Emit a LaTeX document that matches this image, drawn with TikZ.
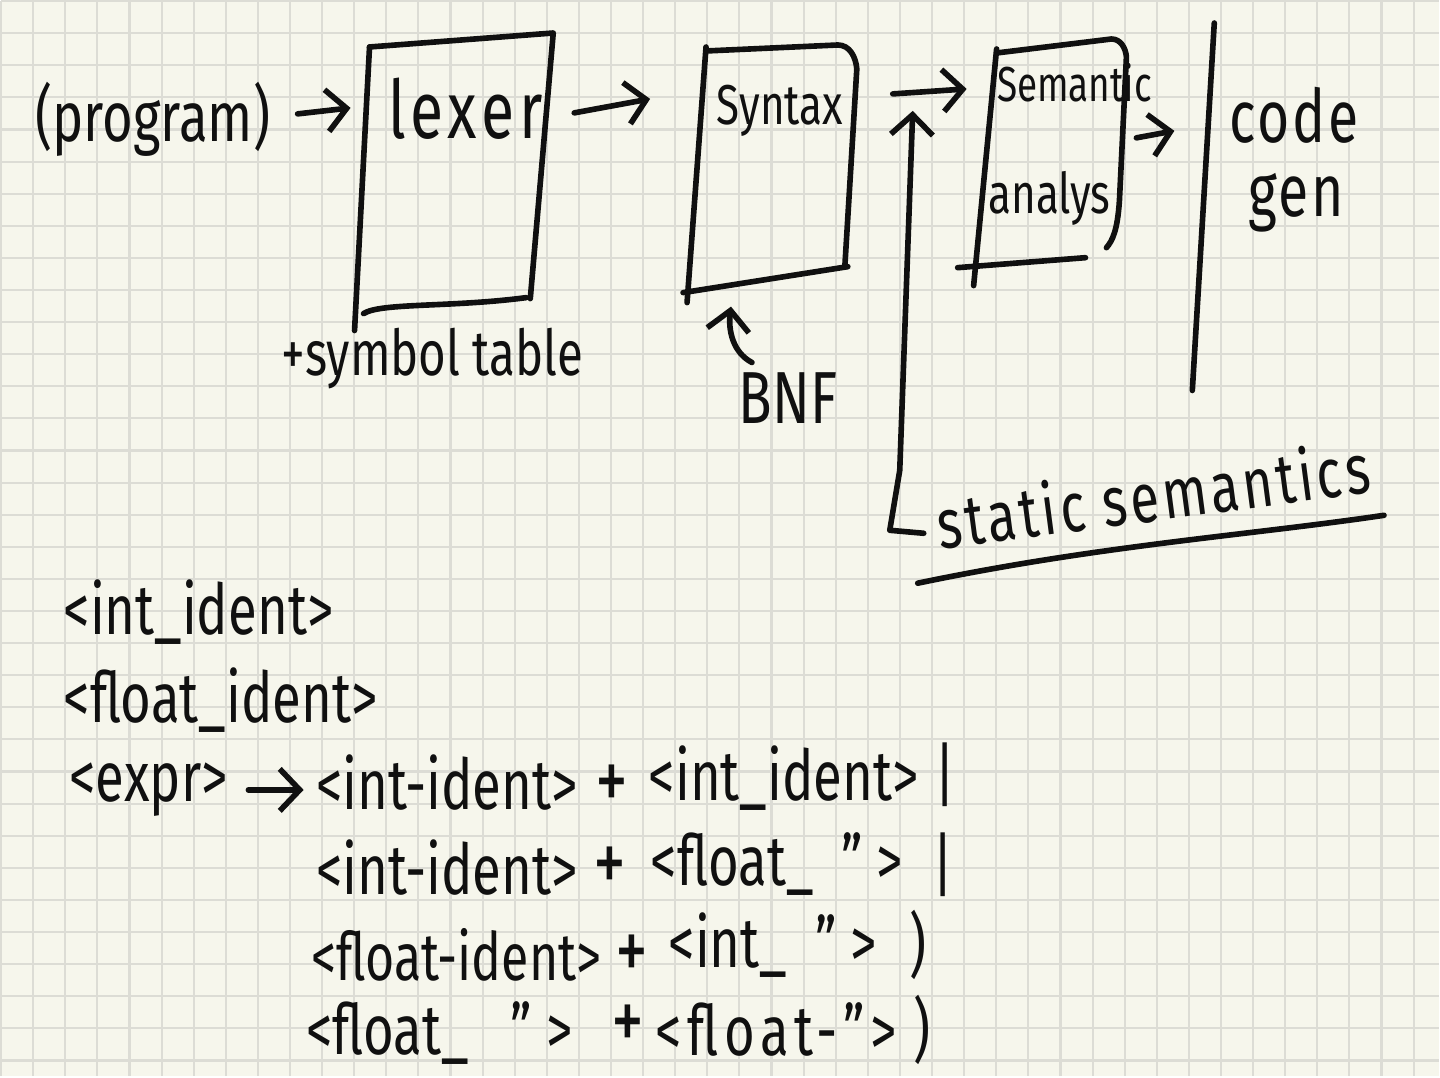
\documentclass[tikz,border=0pt]{standalone}
\usepackage{fontspec}
\setmainfont{Fira Sans}[FakeStretch=0.75]
\usetikzlibrary{arrows.meta}
\definecolor{paper}{HTML}{F6F6EC}
\definecolor{gridgray}{HTML}{DCDCD5}
\definecolor{ink}{HTML}{101010}

\tikzset{
  hand/.style={text=ink, inner sep=0pt, font=\fontsize{20}{24}\selectfont},
  big/.style={hand, font=\fontsize{23}{27}\selectfont},
  small/.style={hand, font=\fontsize{16}{19}\selectfont},
  rule/.style={hand, anchor=west},
  plus/.style={hand, font=\fontsize{25}{28}\selectfont},
  pen/.style={draw=ink, line width=1.6pt, line cap=round, line join=round},
  flow/.style={pen, -{Straight Barb[length=2mm,width=4.2mm]}},
  gridrule/.style={draw=gridgray, line width=0.6pt},
}

\begin{document}
\begin{tikzpicture}[x=0.01cm, y=-0.01cm]
    \fill[paper] (0,0) rectangle (1440,1077);
    \foreach \i in {0,...,44} \draw[gridrule] (\i*32.15,0) -- (\i*32.15,1077);
    \foreach \j in {0,...,33} \draw[gridrule] (0,\j*32.15) -- (1440,\j*32.15);
    \useasboundingbox (0,0) rectangle (1440,1077);

    \node[hand] (program) at (152,118) {(program)};
    \node[big] (lexer) at (465,108) {\addfontfeature{LetterSpace=6}lexer};
    \node[small] (syntax) at (780,110) {Syntax};
    \node[small, font=\fontsize{14}{17}\selectfont] (semantic) at (1075,82) {Semantic};
    \node[small] (analys) at (1050,198) {analys};
    \node[hand, font=\fontsize{21}{25}\selectfont] (code) at (1295,114) {\addfontfeature{LetterSpace=4}code};
    \node[hand, font=\fontsize{21}{25}\selectfont] (gen) at (1297,202) {\addfontfeature{LetterSpace=4}gen};
    \node[hand, font=\fontsize{18}{22}\selectfont] (symtab) at (432,358) {+symbol table};
    \node[hand, font=\fontsize{21}{25}\selectfont] (bnf) at (788,398) {BNF};
    \node[hand, rotate=7.5, font=\fontsize{20}{24}\selectfont] (static) at (1154,494) {\addfontfeature{LetterSpace=5}static semantics};

    \draw[pen] (369,46) -- (553,32) -- (530,298);
    \draw[pen] (369,46) -- (354,330);
    \draw[pen] (363,313) .. controls (380,302) and (450,307) .. (526,297);

    \draw[pen] (706,46) -- (687,302);
    \draw[pen] (706,50) -- (838,44) to[out=0,in=95] (857,68) -- (845,266);
    \draw[pen] (683,292) -- (848,266);

    \draw[pen] (997,48) -- (974,285);
    \draw[pen] (997,52) -- (1112,38) to[out=0,in=95] (1127,56) -- (1120,200) .. controls (1118,230) and (1113,240) .. (1107,247);
    \draw[pen] (958,267) -- (1086,257);

    \draw[pen] (1215,22) -- (1193,390);

    \coordinate (progout) at (297,113);
    \coordinate (lexin) at (350,107);
    \coordinate (lexout) at (574,112);
    \coordinate (synin) at (650,98);
    \coordinate (synout) at (893,93);
    \coordinate (semin) at (967,88);
    \coordinate (semout) at (1137,137);
    \coordinate (codein) at (1175,130);
    \coordinate (bnfout) at (752,362);
    \coordinate (synbot) at (731,306);
    \coordinate (backfoot) at (924,533);
    \coordinate (backin) at (913,110);

    \draw[flow] (progout) -- (lexin);
    \draw[flow] (lexout) -- (synin);
    \draw[flow] (synout) -- (semin);
    \draw[flow] (semout) -- (codein);
    \draw[flow] (bnfout) .. controls (733,352) and (728,330) .. (synbot);
    \draw[flow] (backfoot) -- (890,530) -- (900,470) -- (backin);
    \draw[pen] (918,583) .. controls (1100,545) and (1250,535) .. (1385,515);

    \node[rule] (intid) at (62,612) {<int\_ident>};
    \node[rule] (floatid) at (62,700) {<float\_ident>};
    \node[rule] (expr) at (68,790) {<expr>};
    \node[rule] (altaa) at (315,783) {<int-ident>};
    \node[plus] (plusa) at (612,788) {+};
    \node[rule] (altab) at (648,778) {<int\_ident>};
    \node[hand] (bara) at (945,775) {|};
    \node[rule] (altba) at (315,868) {<int-ident>};
    \node[plus] (plusb) at (610,870) {+};
    \node[rule] (altbb) at (650,864) {<float\_ \ " >};
    \node[hand] (barb) at (943,865) {|};
    \node[rule, font=\fontsize{19}{23}\selectfont] (altca) at (310,955) {<float-ident>};
    \node[plus] (plusc) at (632,958) {+};
    \node[rule] (altcb) at (668,945) {<int\_ \ " >};
    \node[hand] (barc) at (918,945) {)};
    \node[rule] (altda) at (305,1033) {<float\_ \ \ " >};
    \node[plus] (plusd) at (628,1028) {+};
    \node[rule] (altdb) at (655,1030) {\addfontfeature{LetterSpace=8}<float-">};
    \node[hand] (bard) at (922,1030) {)};

    \draw[flow, shorten <=2mm, shorten >=1.2mm] (expr) -- (altaa.west |- expr);
\end{tikzpicture}
\end{document}
